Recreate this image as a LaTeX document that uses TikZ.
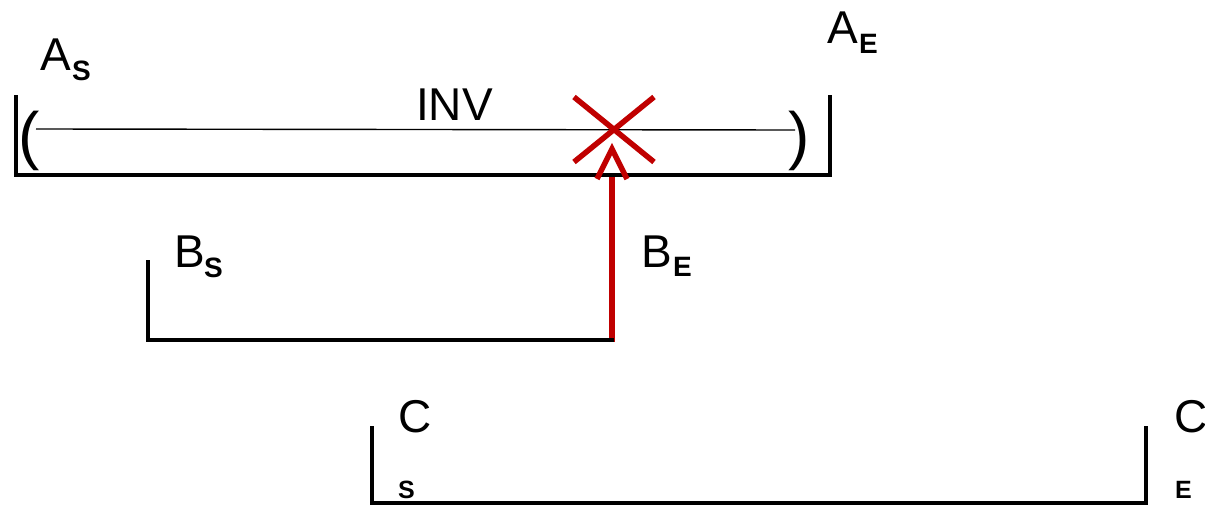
\documentclass[tikz,border=0pt]{standalone}
\usepackage{fontspec}
\setmainfont{Liberation Sans}
\definecolor{xred}{HTML}{C00000}
\begin{document}
\begin{tikzpicture}[x=1pt,y=-1pt,
  bar/.style={line width=4pt,line cap=rect},
  thin/.style={line width=1.4pt},
  redl/.style={xred,line width=5.5pt},
  lab/.style={inner sep=0pt,anchor=base west,font=\fontsize{46}{46}\selectfont},
  sub/.style={inner sep=0pt,anchor=base west,font=\fontsize{28}{28}\selectfont\bfseries},
  subc/.style={inner sep=0pt,anchor=base west,font=\fontsize{25}{25}\selectfont\bfseries},
  par/.style={inner sep=0pt,font=\fontsize{64}{64}\selectfont}]
\useasboundingbox (0,0) rectangle (1205,506);
% coordinates
\coordinate (a1) at (16,97); \coordinate (a2) at (16,175);
\coordinate (a3) at (830,175); \coordinate (a4) at (830,97);
\coordinate (t1) at (36,129); \coordinate (t2) at (795,130);
\coordinate (b1) at (148,262); \coordinate (b2) at (148,340); \coordinate (b3) at (612,340);
\coordinate (c1) at (372,428); \coordinate (c2) at (372,503);
\coordinate (c3) at (1146,503); \coordinate (c4) at (1146,428);
\coordinate (r0) at (612,342); \coordinate (r1) at (612,176);
\coordinate (h1) at (597,179); \coordinate (h2) at (612,149); \coordinate (h3) at (627,179);
\coordinate (x1) at (574,97); \coordinate (x2) at (654,162);
\coordinate (x3) at (654,97); \coordinate (x4) at (574,162);
% red shaft
\draw[redl] (r0) -- (r1);
% brackets
\draw[bar] (a1) -- (a2) -- (a3) -- (a4);
\draw[thin] (t1) -- (t2);
\draw[bar] (b1) -- (b2) -- (b3);
\draw[bar] (c1) -- (c2) -- (c3) -- (c4);
% parentheses
\node[par] (lp) at (29,141) {(};
\node[par] (rp) at (799,141) {)};
% red X and arrow head
\draw[redl] (x1) -- (x2);
\draw[redl] (x3) -- (x4);
\draw[redl] (h1) -- (h2) -- (h3);
% labels
\node[lab] (as) at (40,70) {A};
\node[sub] (ass) at (72,80) {S};
\node[lab] (ae) at (827,43) {A};
\node[sub] (aes) at (859,53) {E};
\node[lab] (inv) at (416,120) {INV};
\node[lab] (bs) at (174,267) {B};
\node[sub] (bss) at (204,277) {S};
\node[lab] (be) at (641,267) {B};
\node[sub] (bes) at (673,276) {E};
\node[lab] (cs) at (398,432) {C};
\node[subc] (css) at (398,498) {S};
\node[lab] (ce) at (1174,432) {C};
\node[subc] (ces) at (1175,498) {E};
\end{tikzpicture}
\end{document}
